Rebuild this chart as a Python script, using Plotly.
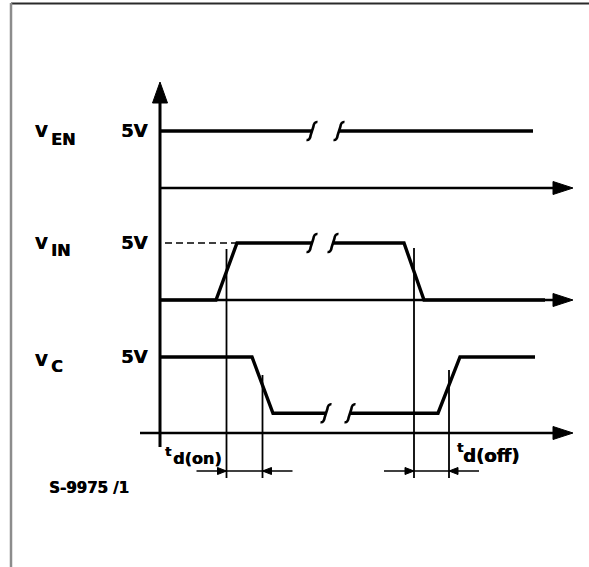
import plotly.graph_objects as go

W, H = 589, 567

# ---------------- data (time in arbitrary units, levels in volts) ----------------
ven_t = [0.0, 15.2, None, 17.9, 37.3]
ven_v = [5, 5, None, 5, 5]
ven_breaks = [15.2, 17.9]

vin_t = [0.0, 5.6, 7.7, 15.2, None, 17.3, 24.4, 26.4, 38.5]
vin_v = [0, 0, 5, 5, None, 5, 5, 0, 0]
vin_breaks = [15.2, 17.3]
vin_ref_t = [0.5, 7.7]   # dashed 5 V reference
vin_ref_v = [5, 5]

vc_t = [0.0, 9.2, 11.3, 16.6, None, 19.0, 27.8, 30.0, 37.5]
vc_v = [5, 5, 1.3, 1.3, None, 1.3, 1.3, 5, 5]
vc_breaks = [16.6, 19.0]

row_names = ["V", "V", "V"]
row_subs = ["EN", "IN", "C"]
level_label = "5V"
delay_labels = [("t", "d(on)"), ("t", "d(off)")]
fig_code = "S-9975 /1"

# ---------------- layout constants ----------------
T0_PX = 160.0      # pixel of t = 0
PX_PER_T = 10.0
T_END = 41.3       # end of time axes (arrow tip)
ROW_BASE_PX = [188.0, 300.0, 433.0]
PX_PER_V = [11.4, 11.4, 15.2]
YAX = ["y", "y2", "y3"]
FONT = "DejaVu Sans"
SHADOW = "0.6px 0px 0px black"


def py(p):
    return 1 - p / H


def px(p):
    return p / W


def yrange(i):
    b, s = ROW_BASE_PX[i], PX_PER_V[i]
    return [-(H - b) / s, b / s]


fig = go.Figure()
LW = 3.4
for i, (t, v) in enumerate([(ven_t, ven_v), (vin_t, vin_v), (vc_t, vc_v)]):
    fig.add_trace(go.Scatter(x=t, y=v, mode="lines", yaxis=YAX[i],
                             line=dict(color="black", width=LW), connectgaps=False,
                             hoverinfo="skip", showlegend=False))
fig.add_trace(go.Scatter(x=vin_ref_t, y=vin_ref_v, mode="lines", yaxis="y2",
                         line=dict(color="black", width=1.5, dash="7px,4px"),
                         hoverinfo="skip", showlegend=False))

shapes = []
# frame
shapes.append(dict(type="line", xref="paper", yref="paper", x0=px(11), x1=1.0,
                   y0=py(3.5), y1=py(3.5), line=dict(color="#2a2a2a", width=2)))
shapes.append(dict(type="line", xref="paper", yref="paper", x0=px(11), x1=px(11),
                   y0=py(3), y1=0, line=dict(color="#8c8c8c", width=2.5)))

# vertical axis with arrow
shapes.append(dict(type="line", xref="x", yref="paper", x0=0, x1=0,
                   y0=py(447), y1=py(98), line=dict(color="black", width=3)))
shapes.append(dict(type="path", xref="x", yref="paper", xsizemode="pixel", ysizemode="pixel",
                   xanchor=0, yanchor=py(82), path="M 0,0 L -7.5,-21 L 7.5,-21 Z",
                   fillcolor="black", line=dict(color="black", width=1)))

# horizontal time axes with arrows
for i in range(3):
    x_start = -2.0 if i == 2 else 0.0
    shapes.append(dict(type="line", xref="x", yref=YAX[i], x0=x_start, x1=T_END - 1.5,
                       y0=0, y1=0, line=dict(color="black", width=2.6)))
    shapes.append(dict(type="path", xref="x", yref=YAX[i], xsizemode="pixel", ysizemode="pixel",
                       xanchor=T_END, yanchor=0, path="M 0,0 L -20,6.5 L -20,-6.5 Z",
                       fillcolor="black", line=dict(color="black", width=1)))

# break marks
BREAK_PATH = "M -5.5,-9 Q -2,-9.5 -1.3,-4 L 1.3,4 Q 2,9.5 5.5,9"
for i, (brks, lvl) in enumerate([(ven_breaks, 5), (vin_breaks, 5), (vc_breaks, 1.3)]):
    for b in brks:
        shapes.append(dict(type="path", xref="x", yref=YAX[i], xsizemode="pixel",
                           ysizemode="pixel", xanchor=b, yanchor=lvl, path=BREAK_PATH,
                           line=dict(color="black", width=2.6)))

# timing markers at 50 % crossings
t_on_start = (vin_t[1] + vin_t[2]) / 2
t_on_end = (vc_t[1] + vc_t[2]) / 2
t_off_start = (vin_t[6] + vin_t[7]) / 2
t_off_end = (vc_t[6] + vc_t[7]) / 2
for t, top in [(t_on_start, 249), (t_on_end, 375), (t_off_start, 248), (t_off_end, 370)]:
    shapes.append(dict(type="line", xref="x", yref="paper", x0=t, x1=t,
                       y0=py(478), y1=py(top), line=dict(color="black", width=1.8)))

MEAS_Y = py(471)
for a, b in [(t_on_start, t_on_end), (t_off_start, t_off_end)]:
    shapes.append(dict(type="line", xref="x", yref="paper", x0=a - 3.0, x1=b + 3.0,
                       y0=MEAS_Y, y1=MEAS_Y, line=dict(color="black", width=1.6)))
    shapes.append(dict(type="path", xref="x", yref="paper", xsizemode="pixel", ysizemode="pixel",
                       xanchor=a, yanchor=MEAS_Y, path="M 0,0 L -9,3.5 L -9,-3.5 Z",
                       fillcolor="black", line=dict(color="black", width=1)))
    shapes.append(dict(type="path", xref="x", yref="paper", xsizemode="pixel", ysizemode="pixel",
                       xanchor=b, yanchor=MEAS_Y, path="M 0,0 L 9,3.5 L 9,-3.5 Z",
                       fillcolor="black", line=dict(color="black", width=1)))

ann = []


def text(x, y, s, size, xanchor="left"):
    ann.append(dict(x=px(x), y=py(y), xref="paper", yref="paper", text=s, showarrow=False,
                    xanchor=xanchor, yanchor="middle",
                    font=dict(family=FONT, size=size, color="black", weight="bold",
                              shadow=SHADOW)))


# row labels
v_center = [131, 243, 360]
s_center = [139, 250, 366]
for i in range(3):
    text(33, v_center[i], row_names[i], 16)
    text(49, s_center[i], row_subs[i], 16)
    ann.append(dict(x=-1.0, y=5, xref="x", yref=YAX[i], text=level_label, showarrow=False,
                    xanchor="right", yanchor="middle", yshift=1,
                    font=dict(family=FONT, size=18, color="black", weight="bold",
                              shadow=SHADOW)))

# delay labels
text(163, 451, delay_labels[0][0], 13)
text(171, 458, delay_labels[0][1], 16)
text(455, 447, delay_labels[1][0], 13)
text(461, 455, delay_labels[1][1], 18)
text(47, 488, fig_code, 15)

fig.update_layout(
    width=W, height=H, autosize=False,
    margin=dict(l=0, r=0, t=0, b=0, pad=0),
    paper_bgcolor="white", plot_bgcolor="white",
    xaxis=dict(range=[-T0_PX / PX_PER_T, (W - T0_PX) / PX_PER_T], visible=False, fixedrange=True),
    yaxis=dict(range=yrange(0), visible=False, fixedrange=True),
    yaxis2=dict(range=yrange(1), visible=False, overlaying="y", fixedrange=True),
    yaxis3=dict(range=yrange(2), visible=False, overlaying="y", fixedrange=True),
    shapes=shapes, annotations=ann, hovermode=False, showlegend=False,
)
fig.write_html("out.html", config={"displayModeBar": False, "staticPlot": True},
               post_script="document.body.style.margin='0';document.body.style.padding='0';")
